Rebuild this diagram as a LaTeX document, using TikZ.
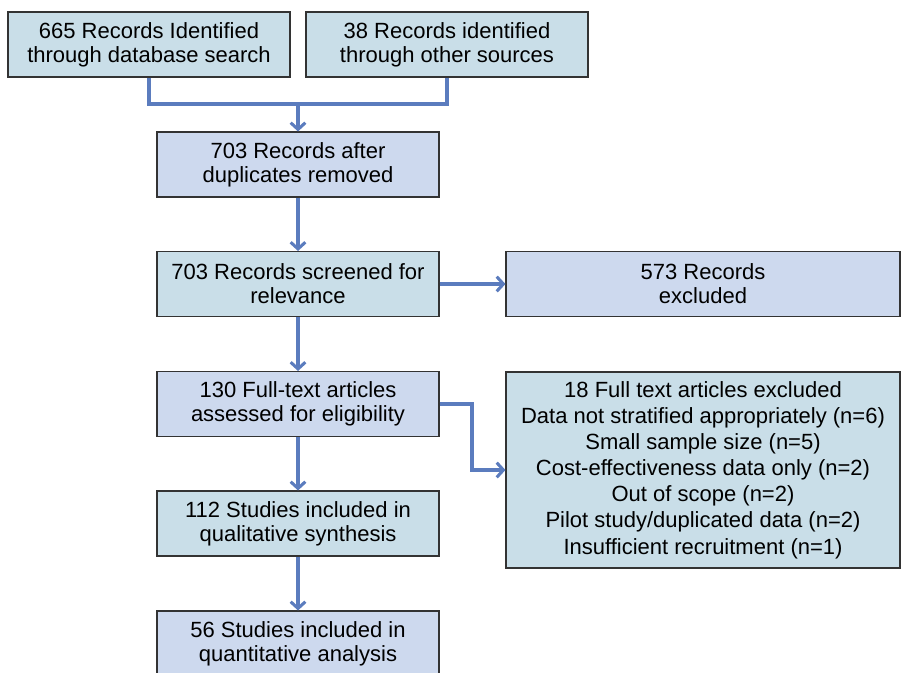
\documentclass[tikz,border=0pt]{standalone}
\usepackage{fontspec}
\setmainfont{Liberation Sans}
\usetikzlibrary{arrows.meta,positioning}

\definecolor{tealfill}{RGB}{201,222,232}
\definecolor{lavfill}{RGB}{205,217,238}
\definecolor{arrblue}{RGB}{91,124,190}

\begin{document}
\begin{tikzpicture}[x=0.75pt, y=-0.75pt,
  box/.style={draw=black!80, line width=0.8pt, align=center, inner sep=0pt,
    minimum width=211.5pt, minimum height=48.75pt,
    font=\fontsize{16.5}{18}\selectfont},
  tealbox/.style={box, fill=tealfill},
  lavbox/.style={box, fill=lavfill},
  wide/.style={minimum width=295.5pt},
  link/.style={draw=arrblue, line width=2.3pt},
  arr/.style={link, -{Straight Barb[length=5pt, width=11pt, line width=2.3pt]}}]

  \useasboundingbox (0,0) rectangle (902,672);

  % Sources
  \node[tealbox] (A) at (149,44.5) {665 Records Identified\\through database search};
  \node[tealbox] (B) at (447,44.5) {38 Records identified\\through other sources};

  % Main column
  \node[lavbox] (C) at (298,164.5) {703 Records after\\duplicates removed};
  \node[tealbox] (D) at (298,284) {703 Records screened for\\relevance};
  \node[lavbox] (F) at (298,404) {130 Full-text articles\\assessed for eligibility};
  \node[tealbox] (H) at (298,523.5) {112 Studies included in\\qualitative synthesis};
  \node[lavbox] (I) at (298,643.5) {56 Studies included in\\quantitative analysis};

  % Exclusions
  \node[lavbox, wide] (E) at (703,284) {573 Records\\excluded};
  \node[tealbox, wide, minimum height=147pt, font=\fontsize{16.5}{19.6}\selectfont] (G) at (703,470)
    {18 Full text articles excluded\\Data not stratified appropriately (n=6)\\
     Small sample size (n=5)\\Cost-effectiveness data only (n=2)\\
     Out of scope (n=2)\\Pilot study/duplicated data (n=2)\\
     Insufficient recruitment (n=1)};

  % Connectors
  \coordinate (J) at (298,104);
  \coordinate (K) at (472,470);
  \draw[link] (A.south) |- (J) -| (B.south);
  \draw[arr] (J) -- (C.north);
  \draw[arr] (C) -- (D);
  \draw[arr] (D) -- (F);
  \draw[arr] (F) -- (H);
  \draw[arr] (H) -- (I);
  \draw[arr] (D) -- (E);
  \draw[arr] (F.east) -| (K) |- (G.west);

\end{tikzpicture}
\end{document}
